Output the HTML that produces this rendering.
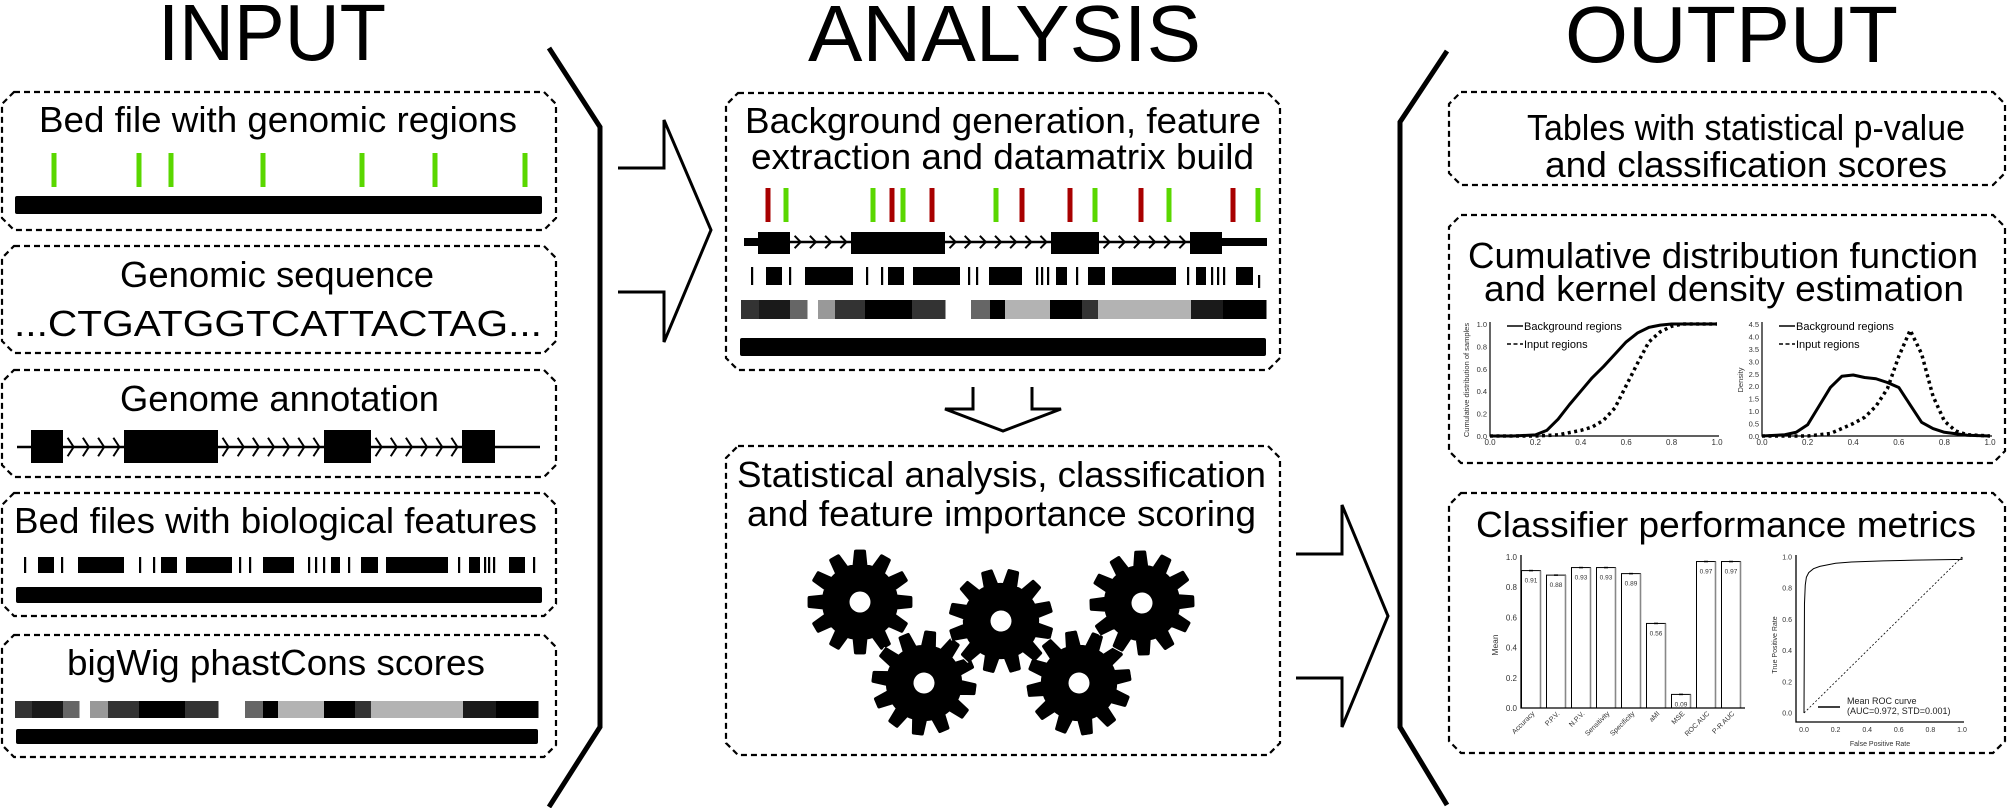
<!DOCTYPE html>
<html><head><meta charset="utf-8">
<style>
html,body{margin:0;padding:0;background:#fff;}
svg{display:block;font-family:"Liberation Sans",Arial,sans-serif;}
</style></head>
<body>
<svg id="main" width="2008" height="808" viewBox="0 0 2008 808" xmlns="http://www.w3.org/2000/svg">
<text x="158" y="60" font-size="80" textLength="228" lengthAdjust="spacingAndGlyphs">INPUT</text>
<text x="808" y="61" font-size="80" textLength="393" lengthAdjust="spacingAndGlyphs">ANALYSIS</text>
<text x="1565" y="62" font-size="80" textLength="333" lengthAdjust="spacingAndGlyphs">OUTPUT</text>

<polyline points="549,48 600,127 600,727 549,807" fill="none" stroke="#000" stroke-width="5"/>
<polyline points="1447,51 1400,122 1400,727 1447,805" fill="none" stroke="#000" stroke-width="5"/>

<polyline points="618,168 664,168 664,120 711,230 664,342 664,292 618,292" fill="none" stroke="#000" stroke-width="3"/>
<polyline points="1296,554 1342,554 1342,505 1388,616 1342,727 1342,678 1296,678" fill="none" stroke="#000" stroke-width="3"/>
<polyline points="973,387 973,409 945,409 1003,431 1061,409 1032,409 1032,387" fill="none" stroke="#000" stroke-width="3"/>

<g id="boxes"></g>
<g id="content"></g>

<g font-size="36" fill="#000">
<text x="39" y="132" textLength="478" lengthAdjust="spacingAndGlyphs">Bed file with genomic regions</text>
<text x="120" y="287" textLength="314" lengthAdjust="spacingAndGlyphs">Genomic sequence</text>
<text x="14" y="336" textLength="528" lengthAdjust="spacingAndGlyphs">...CTGATGGTCATTACTAG...</text>
<text x="120" y="411" textLength="319" lengthAdjust="spacingAndGlyphs">Genome annotation</text>
<text x="14" y="533" textLength="523" lengthAdjust="spacingAndGlyphs">Bed files with biological features</text>
<text x="67" y="675" textLength="418" lengthAdjust="spacingAndGlyphs">bigWig phastCons scores</text>
<text x="745" y="133" textLength="516" lengthAdjust="spacingAndGlyphs">Background generation, feature</text>
<text x="751" y="169" textLength="503" lengthAdjust="spacingAndGlyphs">extraction and datamatrix build</text>
<text x="737" y="487" textLength="529" lengthAdjust="spacingAndGlyphs">Statistical analysis, classification</text>
<text x="747" y="526" textLength="509" lengthAdjust="spacingAndGlyphs">and feature importance scoring</text>
<text x="1527" y="140" textLength="438" lengthAdjust="spacingAndGlyphs">Tables with statistical p-value</text>
<text x="1545" y="177" textLength="402" lengthAdjust="spacingAndGlyphs">and classification scores</text>
<text x="1468" y="268" textLength="510" lengthAdjust="spacingAndGlyphs">Cumulative distribution function</text>
<text x="1484" y="301" textLength="480" lengthAdjust="spacingAndGlyphs">and kernel density estimation</text>
<text x="1476" y="537" textLength="500" lengthAdjust="spacingAndGlyphs">Classifier performance metrics</text>
</g>
<g id="charts"></g>
</svg>
<script>
const cdfX = [0,0.1,0.2,0.25,0.3,0.35,0.4,0.45,0.5,0.55,0.6,0.65,0.7,0.75,0.8,1.0];
const cdfBackground = [0,0,0.01,0.05,0.15,0.28,0.4,0.52,0.62,0.73,0.84,0.92,0.97,0.99,1.0,1.0];
const cdfInputX = [0,0.2,0.3,0.4,0.45,0.5,0.55,0.6,0.65,0.7,0.75,0.8,0.85,1.0];
const cdfInput = [0,0,0.01,0.05,0.08,0.14,0.25,0.45,0.65,0.84,0.93,0.98,1.0,1.0];
const cdfTicks = ["0.0","0.2","0.4","0.6","0.8","1.0"];
const kdeBgX = [0,0.1,0.15,0.2,0.25,0.3,0.35,0.4,0.45,0.5,0.55,0.6,0.65,0.7,0.75,0.8,0.9,1.0];
const kdeBackground = [0,0.05,0.15,0.45,1.2,1.95,2.4,2.45,2.35,2.3,2.15,1.95,1.25,0.55,0.3,0.15,0.03,0];
const kdeInX = [0,0.2,0.3,0.4,0.45,0.5,0.55,0.6,0.65,0.7,0.75,0.8,0.85,0.9,1.0];
const kdeInput = [0,0,0.1,0.5,0.75,1.2,1.9,3.2,4.25,3.3,1.6,0.6,0.2,0.05,0];
const kdeYTicks = ["0.0","0.5","1.0","1.5","2.0","2.5","3.0","3.5","4.0","4.5"];
const barCategories = ["Accuracy","P.P.V.","N.P.V.","Sensitivity","Specificity","aMI","MSE","ROC AUC","P-R AUC"];
const barValues = [0.91,0.88,0.93,0.93,0.89,0.56,0.09,0.97,0.97];
const barLabels = ["0.91","0.88","0.93","0.93","0.89","0.56","0.09","0.97","0.97"];
const barYTicks = ["0.0","0.2","0.4","0.6","0.8","1.0"];
const rocFpr = [0,0.003,0.008,0.015,0.03,0.06,0.1,0.2,0.3,0.5,0.7,1.0];
const rocTpr = [0,0.7,0.82,0.87,0.9,0.925,0.94,0.96,0.968,0.975,0.98,0.985];
const rocTicks = ["0.0","0.2","0.4","0.6","0.8","1.0"];

const NS = "http://www.w3.org/2000/svg";
function mk(parent, tag, attrs, txt){
  const el = document.createElementNS(NS, tag);
  for (const k in attrs) el.setAttribute(k, attrs[k]);
  if (txt !== undefined) el.textContent = txt;
  parent.appendChild(el);
  return el;
}
const boxes = document.getElementById('boxes');
const content = document.getElementById('content');
const charts = document.getElementById('charts');

const boxDefs = [
  ['bed-regions-box',2,92,556,230],['genomic-sequence-box',2,246,556,353],['genome-annotation-box',2,370,556,477],
  ['bed-features-box',2,493,556,616],['bigwig-box',2,635,556,757],
  ['feature-extraction-box',726,93,1280,370],['statistical-analysis-box',726,446,1280,755],
  ['tables-box',1449,92,2005,185],['cdf-kde-box',1449,215,2005,463],['classifier-box',1449,493,2005,753]
];
boxDefs.forEach(b=>{
  const [n,x1,y1,x2,y2]=b, c=12;
  const p = mk(boxes,'polygon',{points:`${x1+c},${y1} ${x2-c},${y1} ${x2},${y1+c} ${x2},${y2-c} ${x2-c},${y2} ${x1+c},${y2} ${x1},${y2-c} ${x1},${y1+c}`,fill:'none',stroke:'#000','stroke-width':2.2,'stroke-dasharray':'6,4'});
  
  
});

const inputRegions = [54,139,171,263,362,435,525];
inputRegions.forEach(x=>{
  const r = mk(content,'rect',{x:x-2.5,y:153,width:5,height:34,fill:'#5ad700'});
  
  
});
const anaTicks = [[768,'r'],[786,'g'],[873,'g'],[892,'r'],[903,'g'],[932,'r'],[996,'g'],[1022,'r'],[1070,'r'],[1095,'g'],[1141,'r'],[1169,'g'],[1233,'r'],[1258,'g']];
anaTicks.forEach(t=>{
  const r = mk(content,'rect',{x:t[0]-2.5,y:188,width:5,height:34,fill:t[1]==='r'?'#a80000':'#5ad700'});
  
  
});

[[15,196,527,18],[16,587,526,16],[16,729,522,15],[740,338,526,18]].forEach(b=>{
  const r = mk(content,'rect',{x:b[0],y:b[1],width:b[2],height:b[3],rx:2,fill:'#000'});
  
  
});

function gene(lineY, x1, x2, exons, ey1, ey2, chevGroups, thick){
  const l = mk(content,'line',{x1:x1,y1:lineY,x2:x2,y2:lineY,stroke:'#000','stroke-width':2.5});
  
  
  thick.forEach(t=>{
    const r = mk(content,'rect',{x:t[0],y:lineY-4,width:t[1]-t[0],height:8,fill:'#000'});
    
    
  });
  exons.forEach(e=>{
    const r = mk(content,'rect',{x:e[0],y:ey1,width:e[1]-e[0],height:ey2-ey1,fill:'#000'});
    
    
  });
  chevGroups.forEach(g=>{
    const [a,b,n]=g, step=(b-a)/n, h=(ey2-ey1)*0.28;
    for(let i=0;i<n;i++){
      const cx=a+step*(i+0.5)+3;
      const p = mk(content,'polyline',{points:`${cx-6},${lineY-h} ${cx},${lineY} ${cx-6},${lineY+h}`,fill:'none',stroke:'#000','stroke-width':2});
      
      
    }
  });
}
gene(447,17,540,[[31,63],[124,218],[324,371],[462,495]],430,463,[[63,124,4],[218,324,7],[371,462,6]],[]);
gene(242,744,1267,[[758,790],[851,945],[1051,1099],[1190,1222]],232,254,[[790,851,4],[945,1051,7],[1099,1190,6]],[[744,758],[1222,1267]]);

function features(y, h, segs){
  segs.forEach(s=>{
    const w = s.length>1 ? s[1]-s[0] : 2.2;
    const r = mk(content,'rect',{x:s[0]-(s.length>1?0:1),y:y,width:w,height:h,fill:'#000'});
    
    
  });
}
features(557,16,[[25],[38,54],[62],[78,124],[140],[154],[161,177],[186,232],[240],[250],[263,294],[309],[316],[324],[331,340],[349],[361,378],[386,448],[459],[469,480],[485],[489],[494],[509,525],[534]]);
features(267,18,[[752],[766,782],[790],[805,853],[867],[882],[888,904],[913,960],[969],[977],[989,1022],[1037],[1042],[1048],[1056,1067],[1077],[1088,1105],[1112,1176],[1188],[1196,1206],[1212],[1218],[1224],[1236,1253]]);
features(275,13,[[1259]]);

function cons(y,h,segs){
  segs.forEach(s=>{
    const r = mk(content,'rect',{x:s[0],y:y,width:s[1]-s[0]+0.5,height:h,fill:s[2]});
    
    
  });
}
cons(701,17,[[15,32,'#333'],[32,63,'#1a1a1a'],[63,79,'#666'],[90,108,'#999'],[108,139,'#333'],[139,185,'#000'],[185,218,'#333'],[245,263,'#666'],[263,278,'#000'],[278,324,'#b3b3b3'],[324,355,'#000'],[355,371,'#333'],[371,463,'#b3b3b3'],[463,496,'#1a1a1a'],[496,538,'#000']]);
cons(300,19,[[741,759,'#333'],[759,790,'#1a1a1a'],[790,807,'#666'],[818,835,'#999'],[835,865,'#333'],[865,912,'#000'],[912,945,'#333'],[971,990,'#666'],[990,1005,'#000'],[1005,1050,'#b3b3b3'],[1050,1082,'#000'],[1082,1098,'#333'],[1098,1191,'#b3b3b3'],[1191,1223,'#1a1a1a'],[1223,1266,'#000']]);

// gears with tapered rounded teeth
function gearPath(){
  const n=12, rb=38, rt=53;
  let d='';
  for(let i=0;i<n;i++){
    const a=i*2*Math.PI/n;
    const hwB=0.16, hwT=0.085, gap=Math.PI/n;
    const pts=[[rb,a-gap],[rb,a-hwB],[rt,a-hwT],[rt,a+hwT],[rb,a+hwB]];
    pts.forEach((p,j)=>{
      const x=(p[0]*Math.sin(p[1])).toFixed(2), y=(-p[0]*Math.cos(p[1])).toFixed(2);
      d += (i===0&&j===0?'M':'L')+x+','+y+' ';
    });
  }
  return d+'Z';
}
const gp = gearPath();
const gearCenters = [[860,602],[924,683],[1001,621],[1079,683],[1142,603]];
gearCenters.forEach((c,gi)=>{
  const g = mk(content,'g',{transform:`translate(${c[0]},${c[1]}) rotate(${gi*7})`});
  
  
  mk(g,'path',{d:gp,fill:'#000',stroke:'#fff','stroke-width':1.2,'stroke-linejoin':'round'});
  mk(g,'path',{d:gp,fill:'#000',stroke:'#000','stroke-width':3.5,'stroke-linejoin':'round',transform:'scale(0.96)'});
  mk(g,'circle',{r:10.5,fill:'#fff'});
});

function lineChart(name, x0, x1, y0, yTop, ymax, xs1, ys1, xs2, ys2, yTicks, yLabel, yLabelX){
  const g = mk(charts,'g',{});
  
  
  const sx = v => x0 + v*(x1-x0);
  const sy = v => y0 - v/ymax*(y0-yTop);
  const ax = mk(g,'polyline',{points:`${x0},${yTop-2} ${x0},${y0} ${x1+2},${y0}`,fill:'none',stroke:'#000','stroke-width':1.2});
  
  
  cdfTicks.forEach(t=>{
    const tx = mk(g,'text',{x:sx(parseFloat(t)),y:y0+9,'font-size':8,'text-anchor':'middle',fill:'#333'},t);
    
    
  });
  yTicks.forEach(t=>{
    const tx = mk(g,'text',{x:x0-3,y:sy(parseFloat(t))+3,'font-size':7.5,'text-anchor':'end',fill:'#333'},t);
    
    
  });
  const yl = mk(g,'text',{x:yLabelX,y:(y0+yTop)/2,'font-size':7.5,'text-anchor':'middle',fill:'#333',transform:`rotate(-90 ${yLabelX} ${(y0+yTop)/2})`},yLabel);
  
  
  const p1 = mk(g,'polyline',{points:xs1.map((v,i)=>`${sx(v)},${sy(ys1[i])}`).join(' '),fill:'none',stroke:'#000','stroke-width':3,'stroke-linejoin':'round'});
  
  
  const p2 = mk(g,'polyline',{points:xs2.map((v,i)=>`${sx(v)},${sy(ys2[i])}`).join(' '),fill:'none',stroke:'#000','stroke-width':3.5,'stroke-dasharray':'3,3.5'});
  
  
  const l1 = mk(g,'line',{x1:x0+17,y1:yTop+2,x2:x0+33,y2:yTop+2,stroke:'#000','stroke-width':1.5});
  
  
  const t1 = mk(g,'text',{x:x0+34,y:yTop+6,'font-size':11},'Background regions');
  
  
  const l2 = mk(g,'line',{x1:x0+17,y1:yTop+20,x2:x0+33,y2:yTop+20,stroke:'#000','stroke-width':1.5,'stroke-dasharray':'4,2.5'});
  
  
  const t2 = mk(g,'text',{x:x0+34,y:yTop+24,'font-size':11},'Input regions');
  
  
}
lineChart('cdf-chart',1490,1717,436,324,1.0,cdfX,cdfBackground,cdfInputX,cdfInput,cdfTicks,'Cumulative distribution of samples',1469);
lineChart('kde-chart',1762,1990,436,324,4.5,kdeBgX,kdeBackground,kdeInX,kdeInput,kdeYTicks,'Density',1743);

(function(){
  const g = mk(charts,'g',{});
  
  
  const x0=1521, y0=708, per=151, step=25, bw=19;
  const sy = v => y0 - v*per;
  barValues.forEach((v,i)=>{
    const x = x0 + i*step + 0.5;
    const r = mk(g,'rect',{x:x,y:sy(v),width:bw,height:y0-sy(v),fill:'#fff',stroke:'#000','stroke-width':1});
    
    
    const sh = mk(g,'line',{x1:x+bw,y1:sy(v),x2:x+bw,y2:y0,stroke:'#888','stroke-width':1.6});
    
    
    const eb = mk(g,'line',{x1:x+bw/2-2,y1:sy(v),x2:x+bw/2+2,y2:sy(v),stroke:'#000','stroke-width':1.5});
    
    
    const vl = mk(g,'text',{x:x+bw/2,y:sy(v)+12,'font-size':6.5,'text-anchor':'middle',fill:'#333'},barLabels[i]);
    
    
    const cx = x+bw/2+4, cy=y0+6;
    const cl = mk(g,'text',{x:cx,y:cy,'font-size':7,'text-anchor':'end',fill:'#333',transform:`rotate(-45 ${cx} ${cy})`},barCategories[i]);
    
    
  });
  const ax = mk(g,'polyline',{points:`${x0},${sy(1.0)-2} ${x0},${y0} ${1745},${y0}`,fill:'none',stroke:'#000','stroke-width':1.3});
  
  
  barYTicks.forEach(t=>{
    const tx = mk(g,'text',{x:x0-4,y:sy(parseFloat(t))+3,'font-size':8,'text-anchor':'end',fill:'#333'},t);
    
    
  });
  const yl = mk(g,'text',{x:1498,y:645,'font-size':8.5,'text-anchor':'middle',fill:'#333',transform:'rotate(-90 1498 645)'},'Mean');
  
  
})();

(function(){
  const g = mk(charts,'g',{});
  
  
  const sx = v => 1804 + v*158;
  const sy = v => 713 - v*156;
  const ax = mk(g,'polyline',{points:`1796,555 1796,722 1964,722`,fill:'none',stroke:'#000','stroke-width':1.3});
  
  
  const d = mk(g,'line',{x1:sx(0),y1:sy(0),x2:sx(1),y2:sy(1),stroke:'#000','stroke-width':0.8,'stroke-dasharray':'2,2'});
  
  
  const c = mk(g,'polyline',{points:rocFpr.map((v,i)=>`${sx(v)},${sy(rocTpr[i])}`).join(' ')+` ${sx(1)},${sy(1)}`,fill:'none',stroke:'#000','stroke-width':1});
  
  
  rocTicks.forEach(t=>{
    const v=parseFloat(t);
    const a = mk(g,'text',{x:sx(v),y:732,'font-size':7,'text-anchor':'middle',fill:'#333'},t);
    
    
    const b = mk(g,'text',{x:1792,y:sy(v)+2.5,'font-size':7,'text-anchor':'end',fill:'#333'},t);
    
    
  });
  const xl = mk(g,'text',{x:1880,y:746,'font-size':7,'text-anchor':'middle',fill:'#333'},'False Positive Rate');
  
  
  const yl = mk(g,'text',{x:1777,y:645,'font-size':7,'text-anchor':'middle',fill:'#333',transform:'rotate(-90 1777 645)'},'True Positive Rate');
  
  
  const ll = mk(g,'line',{x1:1818,y1:707,x2:1840,y2:707,stroke:'#000','stroke-width':1.5});
  
  
  const t1 = mk(g,'text',{x:1847,y:704,'font-size':9,fill:'#222'},'Mean ROC curve');
  
  
  const t2 = mk(g,'text',{x:1847,y:714,'font-size':9,fill:'#222'},'(AUC=0.972, STD=0.001)');
  
  
})();
</script>
</body></html>
